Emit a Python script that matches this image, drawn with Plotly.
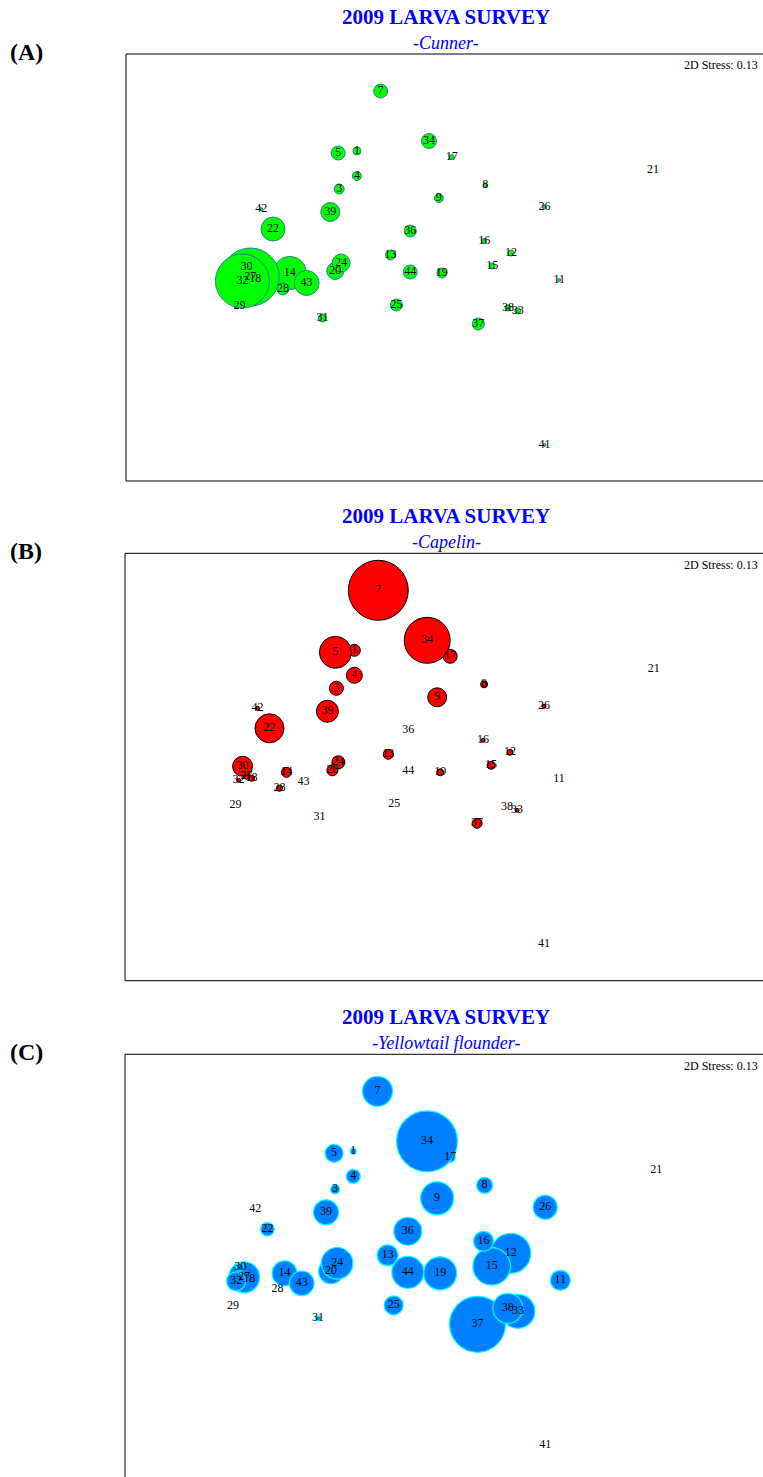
import plotly.graph_objects as go

# ---------------- data ----------------
stations = [1, 3, 4, 5, 7, 8, 9, 11, 12, 13, 14, 15, 16, 17, 18, 19, 20, 21, 22, 24,
            25, 26, 27, 28, 29, 30, 31, 32, 33, 34, 36, 37, 38, 39, 41, 42, 43, 44]

# MDS configuration (same for all three panels)
mds_x = [-0.71, -0.89, -0.71, -0.90, -0.47, 0.59, 0.12, 1.34, 0.85, -0.37, -1.39, 0.66, 0.58, 0.25,
         -1.74, 0.15, -0.93, 2.29, -1.56, -0.87, -0.31, 1.19, -1.79, -1.46, -1.90, -1.83, -1.06,
         -1.87, 0.92, 0.02, -0.17, 0.52, 0.82, -0.98, 1.19, -1.68, -1.22, -0.17]
mds_y = [1.03, 0.65, 0.78, 1.01, 1.63, 0.69, 0.56, -0.26, 0.01, -0.01, -0.19, -0.12, 0.13, 0.97,
         -0.25, -0.19, -0.17, 0.84, 0.25, -0.09, -0.51, 0.47, -0.23, -0.35, -0.52, -0.13, -0.64,
         -0.27, -0.57, 1.13, 0.23, -0.70, -0.54, 0.42, -1.91, 0.45, -0.29, -0.18]

# larval abundance per station (bubble values)
cunner = [6.4, 10, 8.1, 19.6, 19.6, 1.6, 8.1, 0.9, 3.6, 10, 108.9, 3.6, 2.5, 2.5,
          90, 10, 28.9, 0, 57.6, 32.4, 14.4, 1.6, 336.4, 14.4, 0, 62.5, 6.4,
          291.6, 3.6, 22.5, 14.4, 14.4, 3.6, 36.1, 0.9, 0.9, 62.5, 19.6]
capelin = [14.4, 19.6, 25.6, 102.4, 360, 4.9, 36.1, 0, 3.6, 10, 10, 6.4, 1.6, 19.6,
           3.6, 4.9, 12.1, 0, 84.1, 16.9, 0, 1.6, 3.6, 3.6, 0, 40, 0,
           1.6, 1.6, 211.6, 0, 10, 0, 48.4, 0, 1.6, 0, 0]
yellowtail = [3.6, 8.1, 19.6, 32.4, 90, 25.6, 108.9, 40, 160, 44.1, 62.5, 140.6, 40, 10,
              14.4, 108.9, 62.5, 0, 18.2, 99.9, 36.1, 57.6, 96.1, 0, 0, 6.4, 2.5,
              36.1, 115.6, 372.1, 78.4, 313.6, 90, 62.5, 0, 0, 60.5, 102.4]

species = ["Cunner", "Capelin", "Yellowtail flounder"]
panel_tags = ["(A)", "(B)", "(C)"]
survey_title = "2009 LARVA SURVEY"
stress_label = "2D Stress: 0.13"

# ---------------- styling / layout ----------------
W, H = 763, 1477
SERIF = "Liberation Serif, Times New Roman, serif"
fills = ["#00FF00", "#FF0000", "#0080FF"]
edges = ["#2A7F8C", "#000000", "#00FFFF"]
edge_w = [1, 1, 1.2]
values = [cunner, capelin, yellowtail]

# pixel boxes of the three panels and the pixel scale of the MDS axes
panels = [
    dict(left=126, top=54, bottom=481, xs=98.7, ys=100, x0=301),
    dict(left=125, top=553.3, bottom=980.7, xs=99.8, ys=100, x0=300.2),
    dict(left=125, top=1054.3, bottom=1481.5, xs=101, ys=100, x0=300),
]
Y0_PX = 200  # pixel offset of MDS origin from panel top

fig = go.Figure()
shapes, annotations = [], []
layout_axes = {}

def px_x(p):
    return p / W

def px_y(p):
    return 1 - p / H

for i, p in enumerate(panels):
    k = "" if i == 0 else str(i + 1)
    bot_vis = min(p["bottom"], H)
    xr = [(0 - p["x0"]) / p["xs"], (W - p["left"] - p["x0"]) / p["xs"]]
    yr = [(Y0_PX - (bot_vis - p["top"])) / p["ys"], Y0_PX / p["ys"]]
    layout_axes["xaxis" + k] = dict(domain=[px_x(p["left"]), 1], range=xr, visible=False,
                                    anchor="y" + k, fixedrange=True)
    layout_axes["yaxis" + k] = dict(domain=[px_y(bot_vis), px_y(p["top"])], range=yr,
                                    visible=False, anchor="x" + k, fixedrange=True)

    vals = values[i]
    bx = [x for x, v in zip(mds_x, vals) if v > 0]
    by = [y for y, v in zip(mds_y, vals) if v > 0]
    bv = [v for v in vals if v > 0]
    fig.add_trace(go.Scatter(
        x=bx, y=by, mode="markers", xaxis="x" + k, yaxis="y" + k, hoverinfo="skip",
        marker=dict(size=bv, sizemode="area", sizeref=0.2, color=fills[i], opacity=1,
                    line=dict(color=edges[i], width=edge_w[i])),
    ))
    fig.add_trace(go.Scatter(
        x=mds_x, y=mds_y, mode="text", text=[str(s) for s in stations],
        textposition="middle center", xaxis="x" + k, yaxis="y" + k, hoverinfo="skip",
        textfont=dict(family=SERIF, size=12, color="#000000"),
    ))

    # box lines (right edge lies beyond the page)
    lc = dict(color="#000000", width=1)
    shapes.append(dict(type="line", xref="paper", yref="paper", x0=px_x(p["left"]), x1=1,
                       y0=px_y(p["top"]), y1=px_y(p["top"]), line=lc))
    shapes.append(dict(type="line", xref="paper", yref="paper", x0=px_x(p["left"]), x1=px_x(p["left"]),
                       y0=px_y(p["top"]), y1=px_y(bot_vis), line=lc))
    if p["bottom"] < H:
        shapes.append(dict(type="line", xref="paper", yref="paper", x0=px_x(p["left"]), x1=1,
                           y0=px_y(p["bottom"]), y1=px_y(p["bottom"]), line=lc))

    annotations.append(dict(text="<b>" + survey_title + "</b>", xref="paper", yref="paper",
                            x=px_x(446), y=px_y(p["top"] - 37), xanchor="center", yanchor="middle",
                            showarrow=False, font=dict(family=SERIF, size=21, color="#0000FF")))
    annotations.append(dict(text="<i>-" + species[i] + "-</i>", xref="paper", yref="paper",
                            x=px_x(446), y=px_y(p["top"] - 11), xanchor="center", yanchor="middle",
                            showarrow=False, font=dict(family=SERIF, size=18, color="#0000FF")))
    annotations.append(dict(text="<b>" + panel_tags[i] + "</b>", xref="paper", yref="paper",
                            x=px_x(8), y=px_y(p["top"] - 2), xanchor="left", yanchor="middle",
                            showarrow=False, font=dict(family=SERIF, size=24, color="#000000")))
    annotations.append(dict(text=stress_label, xref="paper", yref="paper",
                            x=px_x(760), y=px_y(p["top"] + 11.5), xanchor="right", yanchor="middle",
                            showarrow=False, font=dict(family=SERIF, size=12, color="#000000")))

fig.update_layout(
    width=W, height=H, margin=dict(l=0, r=0, t=0, b=0, pad=0),
    paper_bgcolor="white", plot_bgcolor="white", showlegend=False,
    shapes=shapes, annotations=annotations, **layout_axes,
)

fig.write_html("out.html")
